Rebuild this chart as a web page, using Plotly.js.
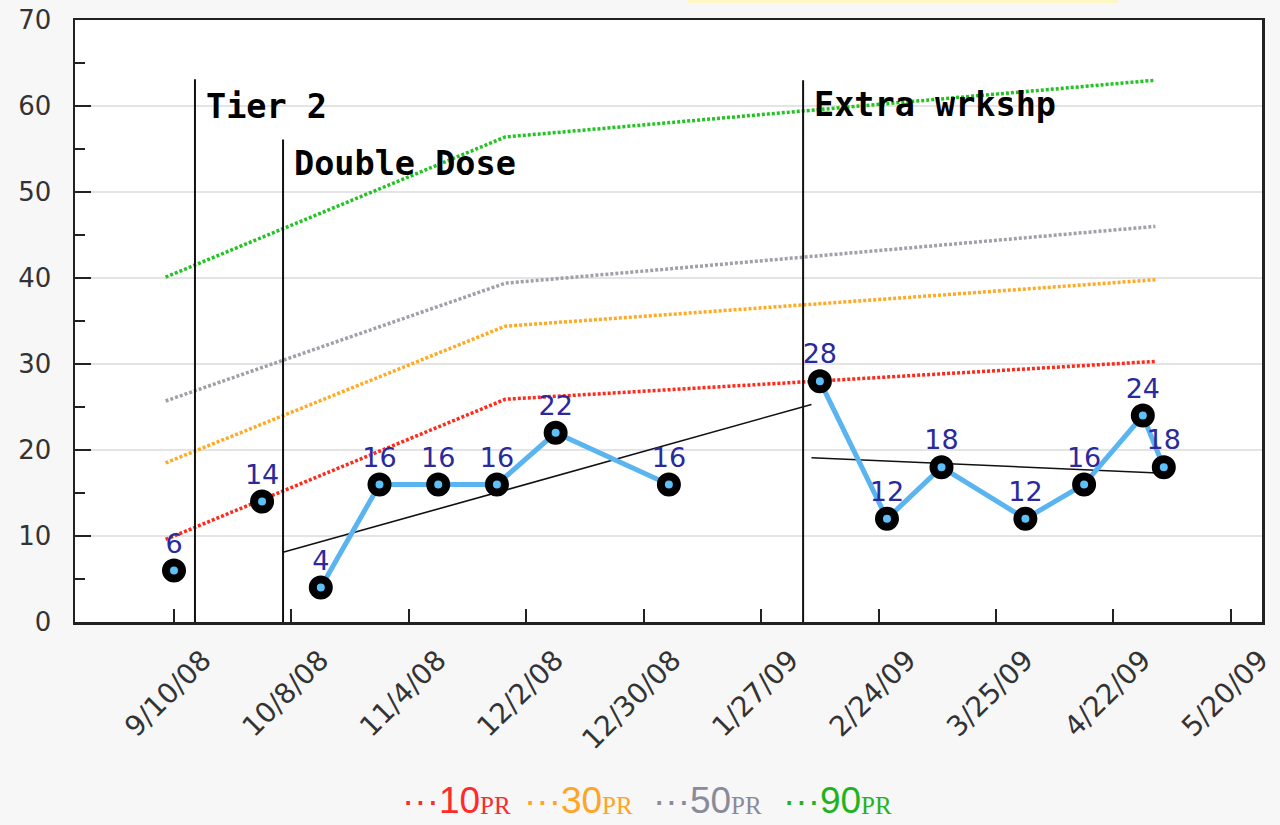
<!DOCTYPE html>
<html>
<head>
<meta charset="utf-8">
<script src="https://cdn.plot.ly/plotly-3.0.1.min.js"></script>
<style>
  html, body { margin: 0; padding: 0; background: #f7f7f7; }
  #chart { width: 1280px; height: 825px; }
</style>
</head>
<body>
<div id="chart"></div>
<script>
// ---- data ----
const tickDates  = ['2008-09-10','2008-10-08','2008-11-05','2008-12-03','2008-12-31','2009-01-28','2009-02-25','2009-03-25','2009-04-22','2009-05-20'];
const tickLabels = ['9/10/08','10/8/08','11/4/08','12/2/08','12/30/08','1/27/09','2/24/09','3/25/09','4/22/09','5/20/09'];

const scoreDates = ['2008-09-10','2008-10-01','2008-10-15','2008-10-29','2008-11-12','2008-11-26','2008-12-10','2009-01-06','2009-02-11','2009-02-27','2009-03-12','2009-04-01','2009-04-15','2009-04-29','2009-05-04'];
const scores     = [6, 14, 4, 16, 16, 16, 22, 16, 28, 12, 18, 12, 16, 24, 18];
const scorePhase = [0, 1, 2, 2, 2, 2, 2, 2, 3, 3, 3, 3, 3, 3, 3];

const phaseDates  = ['2008-09-15','2008-10-06','2009-02-07'];
const phaseTops   = [63.1, 56.1, 63.0];
const phaseLabels = ['Tier 2','Double Dose','Extra wrkshp'];
const phaseLabelY = [60.0, 53.3, 60.2];

const prDates = ['2008-09-08','2008-11-28','2009-05-02'];
const pr10 = [9.6, 25.9, 30.3];
const pr30 = [18.5, 34.4, 39.8];
const pr50 = [25.7, 39.4, 46.0];
const pr90 = [40.1, 56.4, 63.0];
const prNames  = ['10','30','50','90'];
const prColors = ['#ff2a1a','#ffaa22','#a0a0a8','#22c422'];
const prLegendColors = ['#ff2a2a','#ffa424','#8a8a98','#1fb41f'];

const trend1Dates = ['2008-10-06','2009-02-09'];
const trend1 = [8.1, 25.3];
const trend2Dates = ['2009-02-09','2009-05-04'];
const trend2 = [19.1, 17.3];

// ---- traces ----
const traces = [];
[pr10, pr30, pr50, pr90].forEach((vals, i) => {
  traces.push({
    x: prDates, y: vals, type: 'scatter', mode: 'lines',
    line: { color: prColors[i], width: 3.5, dash: '3px,2px' },
    hoverinfo: 'skip'
  });
});

phaseDates.forEach((d, i) => {
  traces.push({
    x: [d, d], y: [0, phaseTops[i]], type: 'scatter', mode: 'lines',
    line: { color: '#111', width: 2 }, hoverinfo: 'skip'
  });
});

[[trend1Dates, trend1], [trend2Dates, trend2]].forEach(([xs, ys]) => {
  traces.push({
    x: xs, y: ys, type: 'scatter', mode: 'lines',
    line: { color: '#111', width: 1.6 }, hoverinfo: 'skip'
  });
});

[0, 1, 2, 3].forEach(p => {
  const xs = [], ys = [];
  scores.forEach((v, i) => { if (scorePhase[i] === p) { xs.push(scoreDates[i]); ys.push(v); } });
  traces.push({
    x: xs, y: ys, type: 'scatter', mode: 'lines+markers+text',
    text: ys.map(String), textposition: 'top center',
    textfont: { family: 'DejaVu Sans', size: 27, color: '#2a2a9c' },
    line: { color: '#5ab4f0', width: 5 },
    marker: { symbol: 'circle', size: 16, color: '#5ec0f8', line: { color: '#000', width: 8 } },
    cliponaxis: false
  });
});

// ---- annotations ----
const annotations = phaseLabels.map((t, i) => ({
  x: phaseDates[i], y: phaseLabelY[i], xref: 'x', yref: 'y',
  text: t, showarrow: false, xanchor: 'left', yanchor: 'middle', xshift: 9,
  font: { family: 'DejaVu Sans Mono', size: 33.5, color: '#000', weight: 'bold' }
}));

// legend drawn as text: coloured dots + number, then small serif "PR"
const plotLeft = 75, plotWidth = 1187, plotTop = 20, plotHeight = 602;
const legendLeftPx = [400, 522, 651, 781];
const legendCenterPx = 801;
const legendSize = 37, prSize = 25;
const ctx = document.createElement('canvas').getContext('2d');
ctx.font = legendSize + 'px "Liberation Sans"';
prNames.forEach((n, i) => {
  const mainText = '\u00b7\u00b7\u00b7' + n;
  const w = ctx.measureText(mainText).width;
  const xp = (legendLeftPx[i] - plotLeft) / plotWidth;
  const yp = (plotTop + plotHeight - legendCenterPx) / plotHeight;
  annotations.push({
    x: xp, y: yp, xref: 'paper', yref: 'paper', xanchor: 'left', yanchor: 'middle',
    showarrow: false, text: mainText,
    font: { family: 'Liberation Sans', size: legendSize, color: prLegendColors[i] }
  });
  annotations.push({
    x: xp, y: yp, xref: 'paper', yref: 'paper', xanchor: 'left', yanchor: 'middle',
    xshift: w, yshift: -4.4,
    showarrow: false, text: 'PR',
    font: { family: 'Liberation Serif', size: prSize, color: prLegendColors[i] }
  });
});

const yFont = { family: 'DejaVu Sans', size: 26, color: '#333' };
const xFont = { family: 'DejaVu Sans', size: 28, color: '#333' };

const layout = {
  width: 1280, height: 825,
  paper_bgcolor: '#f7f7f7', plot_bgcolor: '#ffffff',
  margin: { l: 75, r: 18, t: 20, b: 203 },
  showlegend: false,
  xaxis: {
    type: 'date', range: ['2008-08-17 09:30', '2009-05-27 10:00'],
    tickmode: 'array', tickvals: tickDates, ticktext: tickLabels, tickangle: -45,
    ticks: 'inside', ticklen: 13, tickwidth: 2, tickcolor: '#222',
    showline: true, linecolor: '#222', linewidth: 2.5, mirror: true,
    showgrid: false, zeroline: false, tickfont: xFont,
    ticklabelshift: 29, ticklabelstandoff: 8, ticklabeloverflow: 'allow'
  },
  yaxis: {
    range: [0, 70], tick0: 0, dtick: 10,
    ticks: 'inside', ticklen: 16, tickwidth: 2, tickcolor: '#222',
    showline: true, linecolor: '#222', linewidth: 2.5, mirror: true,
    showgrid: true, gridcolor: '#e4e4e4', gridwidth: 2, zeroline: false,
    tickfont: yFont, ticklabelstandoff: 16,
    minor: { dtick: 5, ticks: 'inside', ticklen: 10, tickwidth: 2, tickcolor: '#222', showgrid: false }
  },
  annotations: annotations,
  shapes: [{
    type: 'rect', xref: 'paper', yref: 'paper',
    x0: (688 - 75) / 1187, x1: (1118 - 75) / 1187,
    y0: 1 + 17 / 602, y1: 1 + 20 / 602,
    fillcolor: '#fff7c2', line: { width: 0 }, layer: 'above'
  }]
};

Plotly.newPlot('chart', traces, layout, { displayModeBar: false, staticPlot: true });
</script>
</body>
</html>
